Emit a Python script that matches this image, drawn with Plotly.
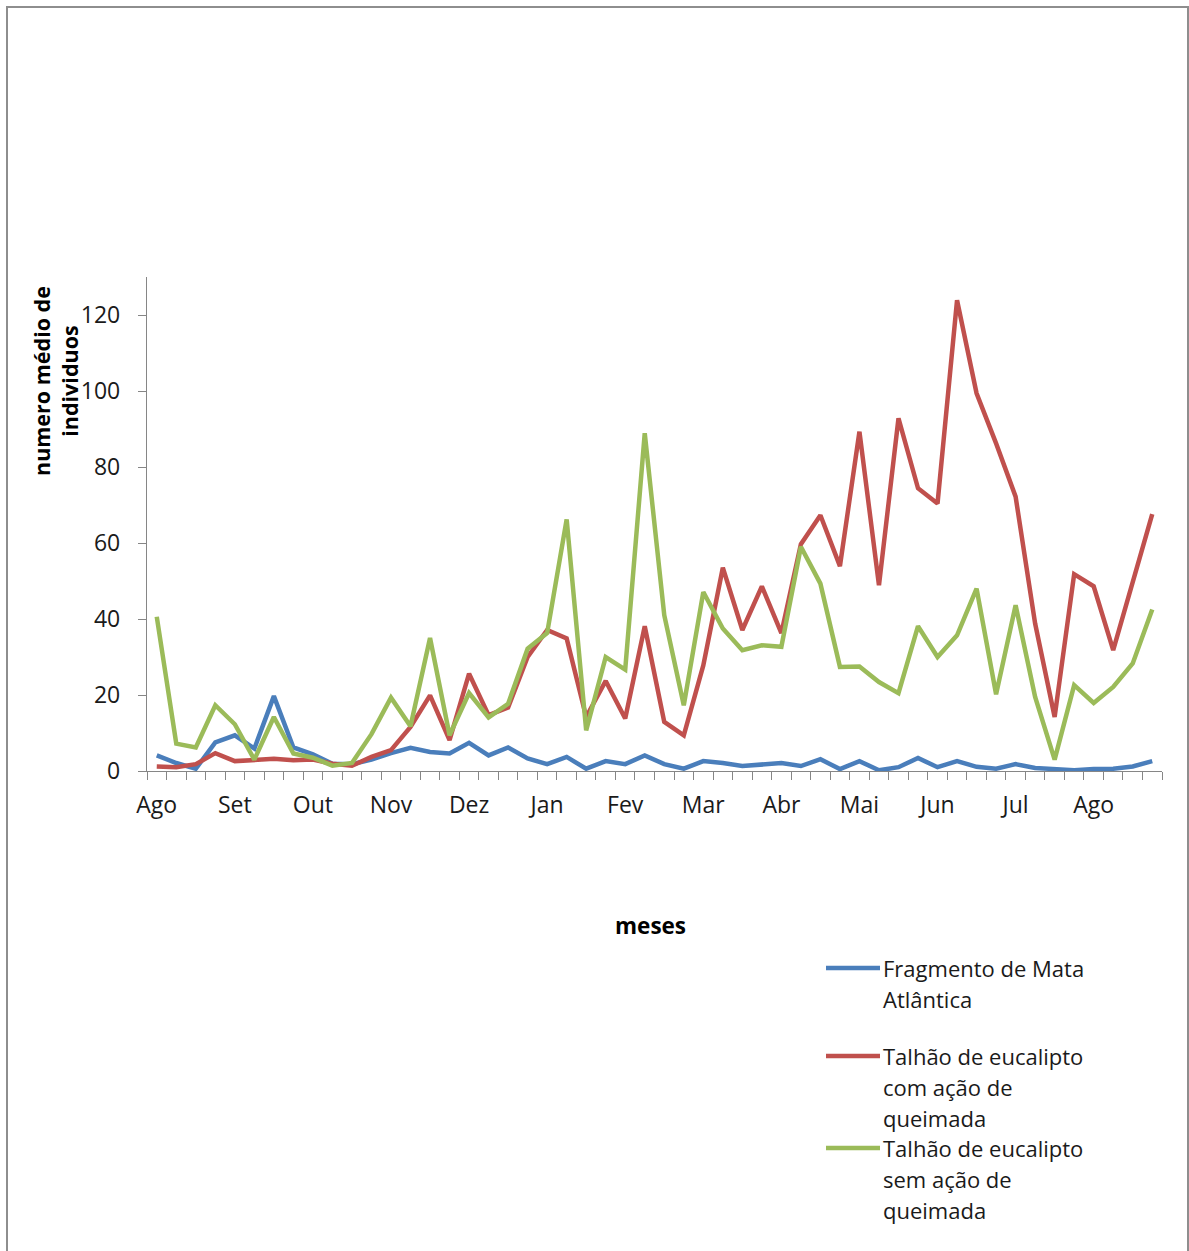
import plotly.graph_objects as go

# Weekly sampling, Aug to Aug (52 weeks)
months = ["Ago", "Set", "Out", "Nov", "Dez", "Jan", "Fev", "Mar", "Abr", "Mai", "Jun", "Jul", "Ago"]
weeks = list(range(52))

mata = [4.1, 2.1, 0.6, 7.5, 9.4, 5.9, 19.7, 6.2, 4.4, 1.9, 1.8, 3.0, 4.7, 6.1, 5.0,
        4.6, 7.4, 4.1, 6.2, 3.3, 1.8, 3.7, 0.6, 2.6, 1.8, 4.1, 1.8, 0.6, 2.6,
        2.1, 1.3, 1.8, 2.1, 1.3, 3.1, 0.5, 2.6, 0.2, 1.0, 3.4, 1.0,
        2.6, 1.1, 0.6, 1.8, 0.8, 0.5, 0.2, 0.5, 0.6, 1.2, 2.6]
com_queimada = [1.2, 1.0, 1.8, 4.7, 2.6, 2.8, 3.2, 2.8, 3.0, 1.9, 1.4, 3.7, 5.5, 11.6, 19.9,
                8.1, 25.6, 14.7, 16.7, 30.0, 37.1, 34.9, 14.2, 23.7, 13.8, 38.1, 12.9, 9.4, 27.8,
                53.5, 37.1, 48.6, 36.3, 59.7, 67.3, 53.9, 89.3, 48.9, 92.8, 74.4, 70.4,
                123.9, 99.4, 86.2, 72.2, 38.8, 14.2, 51.8, 48.6, 31.8, 49.8, 67.6]
sem_queimada = [40.6, 7.2, 6.2, 17.3, 12.3, 3.0, 14.2, 4.6, 3.5, 1.4, 2.1, 9.7, 19.3, 11.8, 35.0,
                9.4, 20.5, 14.1, 17.7, 32.2, 36.3, 66.2, 10.7, 30.0, 26.7, 88.9, 41.0, 17.3, 47.1,
                37.5, 31.8, 33.1, 32.7, 59.0, 49.3, 27.4, 27.5, 23.4, 20.5, 38.1, 30.0,
                35.7, 48.0, 20.2, 43.6, 19.5, 3.0, 22.6, 17.9, 22.1, 28.3, 42.5]

series_names = [
    ["Fragmento de Mata", "Atlântica"],
    ["Talhão de eucalipto", "com ação de", "queimada"],
    ["Talhão de eucalipto", "sem ação de", "queimada"],
]
series_values = [mata, com_queimada, sem_queimada]
series_colors = ["#4A7EBB", "#C0504D", "#9BBB59"]

W, H = 1189, 1251
ML, MR, MT, MB = 147, 27, 277, 480
PW, PH = W - ML - MR, H - MT - MB
FONT = "Open Sans"
AXIS_GRAY = "#868686"


def px(x):
    return (x - ML) / PW


def py(y):
    return (H - MB - y) / PH


fig = go.Figure()
for vals, color in zip(series_values, series_colors):
    fig.add_trace(go.Scatter(x=weeks, y=vals, mode="lines",
                             line=dict(color=color, width=4.5),
                             showlegend=False, hoverinfo="skip"))

shapes = []
annotations = []

# Legend: colored swatch plus wrapped label lines
legend_tops = [968, 1056, 1148]
line_step = 31
for names, color, ytop in zip(series_names, series_colors, legend_tops):
    shapes.append(dict(type="line", xref="paper", yref="paper",
                       x0=px(826), x1=px(880), y0=py(ytop), y1=py(ytop),
                       line=dict(color=color, width=4.5)))
    for k, line in enumerate(names):
        annotations.append(dict(text=line, xref="paper", yref="paper",
                                x=px(881), y=py(ytop + line_step * k),
                                xanchor="left", yanchor="middle", showarrow=False,
                                font=dict(family=FONT, size=22, color="#1a1a1a")))

# Axis titles
annotations.append(dict(text="<b>numero médio de<br>individuos</b>", textangle=-90,
                        xref="paper", yref="paper", x=px(55), y=py(381),
                        xanchor="center", yanchor="middle", showarrow=False,
                        font=dict(family=FONT, size=21.5, color="#000000")))
annotations.append(dict(text="<b>meses</b>", xref="paper", yref="paper",
                        x=px(650), y=py(925), xanchor="center", yanchor="middle",
                        showarrow=False, font=dict(family=FONT, size=22.5, color="#000000")))

# Chart frame
shapes.append(dict(type="rect", xref="paper", yref="paper",
                   x0=px(7), x1=px(1188), y0=py(1300), y1=py(7),
                   line=dict(color="#8E8E8E", width=2), fillcolor="rgba(0,0,0,0)"))

fig.update_layout(
    width=W, height=H,
    margin=dict(l=ML, r=MR, t=MT, b=MB, pad=0),
    paper_bgcolor="white", plot_bgcolor="white",
    showlegend=False,
    shapes=shapes, annotations=annotations,
    xaxis=dict(range=[-0.5, 51.5], tickmode="array",
               tickvals=[4 * i for i in range(len(months))], ticktext=months,
               ticks="", showgrid=False, zeroline=False,
               showline=True, linecolor=AXIS_GRAY, linewidth=1.3,
               tickfont=dict(family=FONT, size=23, color="#1a1a1a"),
               ticklabelstandoff=13,
               minor=dict(tickmode="linear", tick0=-0.5, dtick=1, ticks="outside",
                          ticklen=8, tickwidth=1.3, tickcolor=AXIS_GRAY, showgrid=False)),
    yaxis=dict(range=[0, 130], tickmode="linear", tick0=0, dtick=20,
               ticks="outside", ticklen=8, tickwidth=1.3, tickcolor=AXIS_GRAY,
               showgrid=False, zeroline=False,
               showline=True, linecolor=AXIS_GRAY, linewidth=1.3,
               tickfont=dict(family=FONT, size=23, color="#1a1a1a"),
               ticklabelstandoff=13),
)

fig.write_html("out.html")
